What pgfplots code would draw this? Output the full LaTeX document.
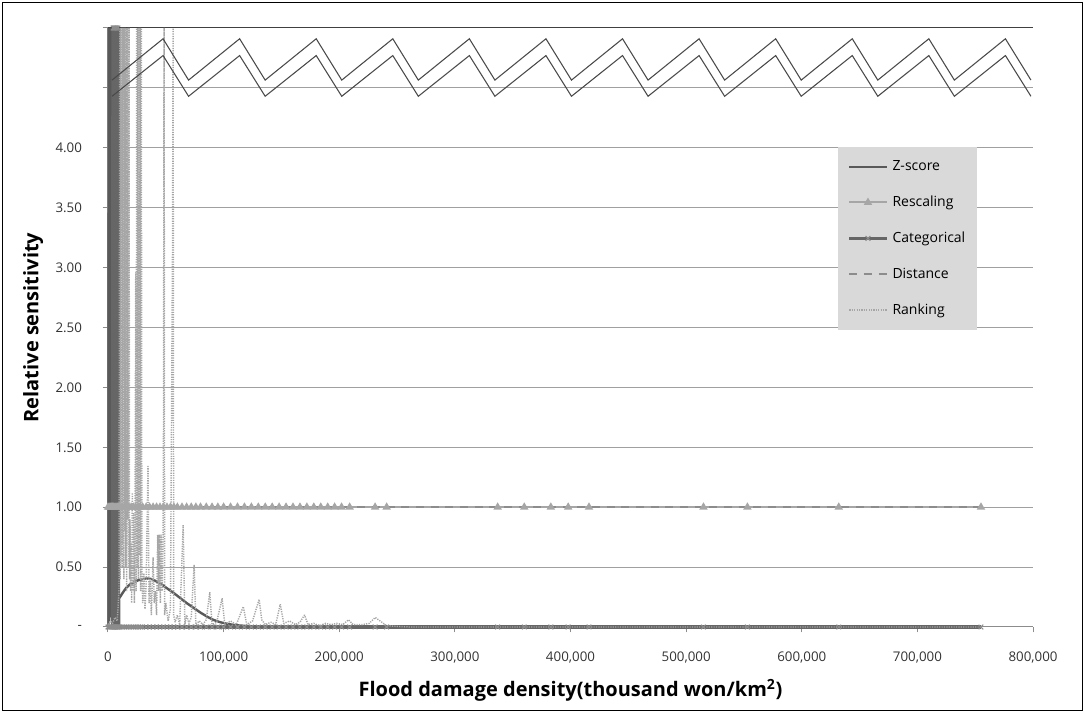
\documentclass[border=0pt]{standalone}
\usepackage{pgfplots}
\usepackage{pgfplotstable}
\pgfplotsset{compat=1.18}
\usepackage{fontspec}
\setmainfont{Open Sans}
\definecolor{zc}{HTML}{595959}
\definecolor{rc}{HTML}{A6A6A6}
\definecolor{cc}{HTML}{666666}
\definecolor{dc}{HTML}{8C8C8C}
\definecolor{gc}{HTML}{A0A0A0}
\definecolor{legbg}{HTML}{D9D9D9}
\definecolor{zz}{HTML}{4A4A4A}

\pgfplotstableread{
x y
0 1
1000 1
2000 1
3000 1
4000 1
5000 1
6000 1
7000 1
8000 1
9000 1
10000 1
12000 1
14000 1
16000 1
18000 1
20000 1
22000 1
24000 1
26000 1
28000 1
30000 1
33000 1
36000 1
39000 1
42000 1
45000 1
48000 1
51000 1
54000 1
57000 1
60000 1
64000 1
68000 1
72000 1
76000 1
80000 1
85000 1
90000 1
95000 1
100000 1
106000 1
112000 1
118000 1
124000 1
130000 1
136000 1
142000 1
148000 1
154000 1
160000 1
166000 1
172000 1
178000 1
184000 1
190000 1
196000 1
202000 1
209000 1
231000 1
241000 1
337000 1
360000 1
383000 1
398000 1
416000 1
515000 1
553000 1
632000 1
755000 1
}\rescaling

\pgfplotstableread{
x y
0 0
1000 0
2000 0
3000 0
4000 0
4500 5
4800 0
5100 5
5400 0
5700 5
6000 0
6300 5
6600 0
6900 5
7200 0
7500 5
7800 0
8100 0
8600 5
9000 0
10000 0
12000 0
14000 0
16000 0
18000 0
20000 0
22000 0
24000 0
26000 0
28000 0
30000 0
33000 0
36000 0
39000 0
42000 0
45000 0
48000 0
51000 0
54000 0
57000 0
60000 0
64000 0
68000 0
72000 0
76000 0
80000 0
85000 0
90000 0
95000 0
100000 0
106000 0
112000 0
118000 0
124000 0
130000 0
136000 0
142000 0
148000 0
154000 0
160000 0
166000 0
172000 0
178000 0
184000 0
190000 0
196000 0
202000 0
209000 0
231000 0
241000 0
337000 0
360000 0
383000 0
398000 0
416000 0
515000 0
553000 0
632000 0
755000 0
}\categorical

\pgfplotstableread{
x y
400 0.02
700 5
1000 0.05
1300 5
1600 0.08
1900 5
2200 0.1
2500 5
2800 0.12
3100 5
3400 0.14
3700 5
4200 0.16
4600 0.17
7000 0.21
10400 0.25
13000 0.29
16000 0.33
19000 0.355
22000 0.37
26000 0.39
30000 0.40
33800 0.405
38000 0.40
42000 0.38
45000 0.365
50000 0.33
56000 0.29
62000 0.245
68000 0.20
74000 0.16
80000 0.12
86000 0.085
91000 0.06
97000 0.04
103000 0.027
109000 0.017
114000 0.012
120000 0.008
130000 0.004
150000 0.002
209000 0.001
755000 0
}\zscore

\pgfplotstableread{
x y
0 1
755000 1
}\distance

\pgfplotstableread{
x y
0 0.02
2000 0.05
4000 0.03
6000 0.08
8000 0.05
9500 0.3
10200 5
10600 0.4
11000 5
11400 0.6
11800 5
12200 0.5
12600 5
13000 0.7
13400 5
13800 0.4
14200 5
14600 0.8
15000 5
15400 0.5
15800 5
16200 0.3
16600 5
17000 0.9
17400 5
17800 0.5
18200 5
18600 0.4
19000 0.9
19500 0.3
20000 0.7
20500 0.2
21000 1.12
21600 0.3
22200 0.95
22800 0.2
23400 0.8
24000 2.96
24400 0.3
24800 5
25300 0.5
25800 5
26300 0.4
26800 5
27300 0.6
27800 5
28300 0.3
28800 5
29300 0.5
30000 0.2
31000 0.45
32000 0.15
33000 0.35
34600 1.35
35500 0.2
36500 0.4
37500 0.1
39000 0.58
40000 0.2
41000 0.3
42000 0.1
43000 0.77
43800 0.3
44500 0.77
45300 0.2
46000 0.77
46800 0.3
47600 0.75
48000 1.66
48500 5
49000 0.1
50000 0.2
52000 0.05
54000 0.15
55800 3.15
56300 5
56800 0.1
58000 0.04
60000 0.1
62000 0.02
65000 0.85
66500 0.02
68000 0.1
70000 0.03
72000 0.08
74500 0.52
76000 0.02
79000 0.05
82000 0.02
85000 0.06
88000 0.29
90000 0.02
94000 0.04
98700 0.24
101000 0.02
106000 0.05
111000 0.02
117000 0.17
120000 0.02
125000 0.05
130700 0.23
133000 0.06
136000 0.02
141000 0.04
145000 0.02
149000 0.19
152000 0.03
157000 0.05
162000 0.02
166000 0.04
170000 0.10
173000 0.02
178000 0.03
183000 0.01
188000 0.03
193000 0.02
198000 0.03
203000 0.02
208000 0.06
212000 0.02
220000 0.02
226000 0.03
231000 0.08
234000 0.06
241000 0.01
260000 0
755000 0
}\ranking

\pgfplotstableread{
x y
3460 4.565
47620 4.91
69690 4.565
113850 4.91
135920 4.565
180080 4.91
202150 4.565
246310 4.91
268380 4.565
312540 4.91
334610 4.565
378770 4.91
400840 4.565
445000 4.91
467070 4.565
511230 4.91
533300 4.565
577460 4.91
599530 4.565
643690 4.91
665760 4.565
709920 4.91
731990 4.565
776150 4.91
798220 4.565
}\zigup

\pgfplotstableread{
x y
3460 4.43
47620 4.77
69690 4.43
113850 4.77
135920 4.43
180080 4.77
202150 4.43
246310 4.77
268380 4.43
312540 4.77
334610 4.43
378770 4.77
400840 4.43
445000 4.77
467070 4.43
511230 4.77
533300 4.43
577460 4.77
599530 4.43
643690 4.77
665760 4.43
709920 4.77
731990 4.43
776150 4.77
798220 4.43
}\zigdown

\begin{document}
\begin{tikzpicture}
\useasboundingbox (-81pt,-64.5pt) rectangle (732.75pt,470.25pt);
\draw[black, line width=0.75pt] (-79pt,-62.5pt) rectangle (730.5pt,468pt);
\begin{axis}[
  at={(0,0)}, anchor=south west, scale only axis,
  width=693.75pt, height=449.25pt,
  xmin=0, xmax=800000, ymin=0, ymax=5,
  clip=false,
  xtick={0,100000,200000,300000,400000,500000,600000,700000,800000},
  xticklabels={0,{100,000},{200,000},{300,000},{400,000},{500,000},{600,000},{700,000},{800,000}},
  scaled x ticks=false,
  ytick={0,0.5,1,1.5,2,2.5,3,3.5,4,4.5},
  yticklabels={-,0.50,1.00,1.50,2.00,2.50,3.00,3.50,4.00,{}},
  extra y ticks={5}, extra y tick labels={},
  extra y tick style={grid style={black!75, line width=0.75pt}},
  ymajorgrids, grid style={gc, line width=0.75pt},
  axis x line*=bottom, axis y line*=left,
  axis line style={draw=dc, line width=0.75pt},
  tick align=outside, major tick length=4pt,
  tick style={dc, line width=0.75pt},
  tick label style={font=\fontsize{10}{12}\selectfont, text=black!80},
  xticklabel style={yshift=-11pt},
  yticklabel style={xshift=-12pt},
  xlabel={Flood damage density(thousand won/km\textsuperscript{2})},
  ylabel={Relative sensitivity},
  xlabel style={at={(axis description cs:0.5,-0.105)}, anchor=center, font=\bfseries\fontsize{15}{17}\selectfont},
  ylabel style={at={(axis description cs:-0.081,0.5)}, anchor=center, font=\bfseries\fontsize{15}{17}\selectfont},
  legend cell align=left,
  legend image code/.code={\draw[mark repeat=2,mark phase=2,#1] plot coordinates {(0pt,0pt) (14pt,0pt) (28pt,0pt)};},
  legend style={at={(0.789,0.801)}, anchor=north west, fill=legbg, draw=none,
    font=\fontsize{10.5}{12}\selectfont, row sep=13.5pt, inner xsep=7pt, inner ysep=8pt,
    /tikz/every odd column/.append style={column sep=1pt}},
]
\addplot[zc, line width=1.8pt, line join=bevel] table {\zscore};
\addlegendentry{Z-score}
\addplot[rc, line width=1.5pt, mark=triangle*, mark size=2.2pt, mark options={solid, fill=rc, draw=rc}] table {\rescaling};
\addlegendentry{Rescaling}
\addplot[cc, line width=2.8pt, line join=bevel, mark=x, mark size=2.5pt, mark options={solid, line width=0.8pt, draw=dc}] table {\categorical};
\addlegendentry{Categorical}
\addplot[dc, line width=1.5pt, dash pattern=on 6pt off 5pt] table {\distance};
\addlegendentry{Distance}
\addplot[rc, line width=1.1pt, line join=bevel, dash pattern=on 0.9pt off 0.9pt] table {\ranking};
\addlegendentry{Ranking}
\addplot[zz, line width=0.8pt, forget plot] table {\zigup};
\addplot[zz, line width=0.8pt, forget plot] table {\zigdown};
\end{axis}
\end{tikzpicture}
\end{document}
